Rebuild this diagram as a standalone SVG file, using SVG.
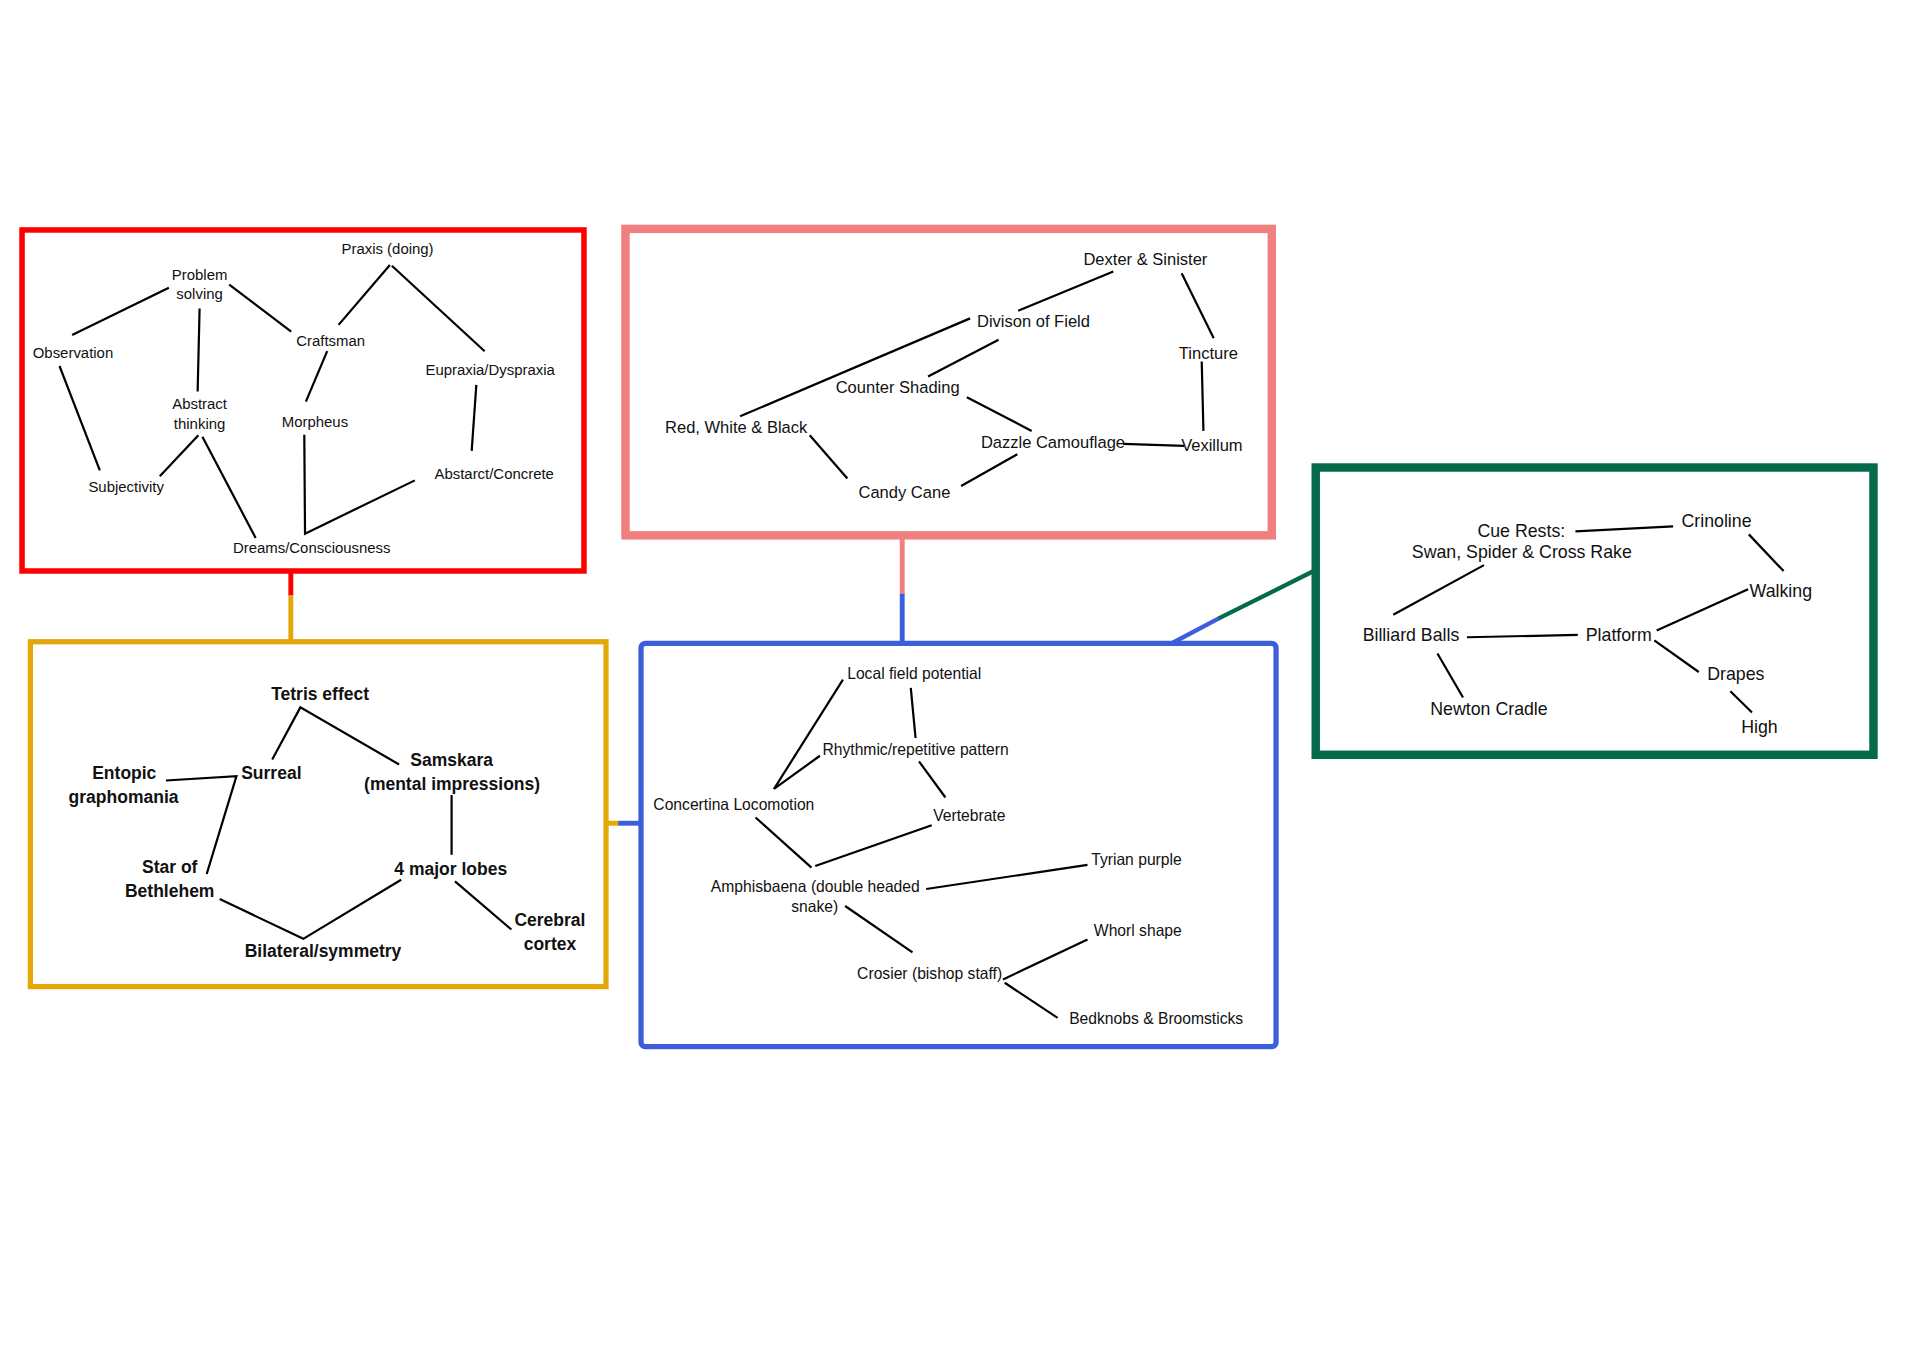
<svg xmlns="http://www.w3.org/2000/svg" width="1920" height="1357" viewBox="0 0 1920 1357">
<defs>
<style>
.box{fill:none}
.red{stroke:#FF0000}
.pink{stroke:#F07F7F}
.yel{stroke:#E2A808}
.blu{stroke:#3D5EDB}
.grn{stroke:#036A4B}
.lnk{stroke:#000;stroke-width:1.8;fill:none;stroke-linecap:butt}
.bridge{fill:none;stroke-width:4}
text{font-family:"Liberation Sans",Arial,sans-serif;fill:#111;text-anchor:middle;dominant-baseline:central}
.t1{font-size:12.2px}
.t2{font-size:13.5px}
.t3{font-size:14.5px}
.t4{font-size:14.3px;font-weight:bold}
.t5{font-size:12.8px}
</style>
</defs>
<rect width="1920" height="1357" fill="#fff"/>
<g transform="scale(1.2245)">
<g id="connectors">
<line class="bridge red" x1="237.5" y1="466" x2="237.5" y2="486.5"/>
<line class="bridge yel" x1="237.5" y1="486" x2="237.5" y2="524"/>
<line class="bridge yel" x1="494.5" y1="672.3" x2="505.5" y2="672.3"/>
<line class="bridge blu" x1="505" y1="672.3" x2="523.5" y2="672.3"/>
<line class="bridge pink" x1="736.8" y1="437" x2="736.8" y2="485.5"/>
<line class="bridge blu" x1="736.8" y1="485" x2="736.8" y2="525.4"/>
<line class="bridge blu" style="stroke-width:3.5" x1="957.7" y1="524.9" x2="995.8" y2="504.8"/>
<line class="bridge grn" style="stroke-width:3.5" x1="995.3" y1="505" x2="1074.5" y2="465.5"/>
</g>

<g id="box-red">
<rect class="box red" x="18" y="187.8" width="458.9" height="278.5" stroke-width="4.5"/>
<g class="links">
<line class="lnk" x1="137.9" y1="235" x2="58.9" y2="273.6"/>
<line class="lnk" x1="163" y1="252" x2="161.4" y2="319.8"/>
<line class="lnk" x1="187.2" y1="232.4" x2="237.8" y2="270.8"/>
<line class="lnk" x1="318.4" y1="216.4" x2="276.5" y2="265.3"/>
<line class="lnk" x1="320" y1="217" x2="395.8" y2="286.8"/>
<line class="lnk" x1="267.2" y1="286.8" x2="249.8" y2="328"/>
<line class="lnk" x1="48.6" y1="298.9" x2="81.5" y2="384.1"/>
<line class="lnk" x1="162" y1="355.5" x2="130.5" y2="389"/>
<line class="lnk" x1="165.3" y1="356.6" x2="208.8" y2="439.4"/>
<polyline class="lnk" points="248.5,355 249.1,435.8 338.8,392.3"/>
<line class="lnk" x1="389" y1="314.3" x2="385.2" y2="368.2"/>
</g>
<text class="t1" x="316.5" y="203">Praxis (doing)</text>
<text class="t1" x="163" y="224">Problem</text>
<text class="t1" x="163" y="240">solving</text>
<text class="t1" x="59.6" y="287.5">Observation</text>
<text class="t1" x="270" y="278">Craftsman</text>
<text class="t1" x="400.3" y="302">Eupraxia/Dyspraxia</text>
<text class="t1" x="163" y="329.6">Abstract</text>
<text class="t1" x="163" y="345.5">thinking</text>
<text class="t1" x="257.2" y="344">Morpheus</text>
<text class="t1" x="103" y="397.5">Subjectivity</text>
<text class="t1" x="403.6" y="386.5">Abstarct/Concrete</text>
<text class="t1" x="254.6" y="447.5">Dreams/Consciousness</text>
</g>

<g id="box-pink">
<rect class="box pink" x="510.8" y="186.9" width="527.8" height="250.3" stroke-width="6.9"/>
<g class="links">
<line class="lnk" x1="909.2" y1="221.8" x2="831.5" y2="253.8"/>
<line class="lnk" x1="792.2" y1="260" x2="604.4" y2="340"/>
<line class="lnk" x1="815.5" y1="277.4" x2="757.9" y2="307.5"/>
<line class="lnk" x1="965" y1="223.1" x2="991.2" y2="276.3"/>
<line class="lnk" x1="981.4" y1="295.3" x2="982.8" y2="351.9"/>
<line class="lnk" x1="789.6" y1="324.5" x2="842.5" y2="351.9"/>
<line class="lnk" x1="917.2" y1="362.5" x2="967.1" y2="364.1"/>
<line class="lnk" x1="661.3" y1="355.5" x2="692" y2="390.7"/>
<line class="lnk" x1="830.8" y1="370.9" x2="784.9" y2="396.9"/>
</g>
<text class="t2" x="935.4" y="212.2">Dexter &amp; Sinister</text>
<text class="t2" x="844" y="262.6">Divison of Field</text>
<text class="t2" x="986.8" y="288.7">Tincture</text>
<text class="t2" x="733.1" y="316.6">Counter Shading</text>
<text class="t2" x="601.2" y="348.9">Red, White &amp; Black</text>
<text class="t2" x="859.9" y="361.1">Dazzle Camouflage</text>
<text class="t2" x="989.7" y="364">Vexillum</text>
<text class="t2" x="738.6" y="402">Candy Cane</text>
</g>

<g id="box-green">
<rect class="box grn" x="1074.5" y="381.8" width="455.5" height="234.6" stroke-width="6.9"/>
<g class="links">
<line class="lnk" x1="1286.6" y1="434" x2="1366.4" y2="429.9"/>
<line class="lnk" x1="1428.2" y1="436.4" x2="1456.6" y2="466.4"/>
<line class="lnk" x1="1211.9" y1="461.5" x2="1137.8" y2="502"/>
<line class="lnk" x1="1198" y1="520.4" x2="1288.5" y2="518.5"/>
<line class="lnk" x1="1352.9" y1="515" x2="1427.6" y2="481.2"/>
<line class="lnk" x1="1351" y1="522.9" x2="1387.3" y2="548.8"/>
<line class="lnk" x1="1173.9" y1="533.7" x2="1194.8" y2="569.6"/>
<line class="lnk" x1="1413.1" y1="564.5" x2="1430.8" y2="581.8"/>
</g>
<text class="t3" x="1242.4" y="433.4">Cue Rests:</text>
<text class="t3" x="1242.8" y="450.7">Swan, Spider &amp; Cross Rake</text>
<text class="t3" x="1401.8" y="425.8">Crinoline</text>
<text class="t3" x="1454.3" y="482.6">Walking</text>
<text class="t3" x="1152.3" y="518.2">Billiard Balls</text>
<text class="t3" x="1322" y="518.2">Platform</text>
<text class="t3" x="1417.6" y="550.7">Drapes</text>
<text class="t3" x="1216" y="579.3">Newton Cradle</text>
<text class="t3" x="1436.9" y="593.8">High</text>
</g>

<g id="box-yellow">
<rect class="box yel" x="24.8" y="524.1" width="470.1" height="281.6" stroke-width="4.3"/>
<g class="links">
<polyline class="lnk" points="222.3,620.3 245.3,577.7 325.9,624.3"/>
<polyline class="lnk" points="135.5,637.4 193.1,633.8 168.8,713.8"/>
<line class="lnk" x1="368.8" y1="649.3" x2="368.8" y2="698.1"/>
<polyline class="lnk" points="179.4,734.2 247.7,766.7 327.6,718.5"/>
<line class="lnk" x1="371.6" y1="719.8" x2="417.6" y2="759.1"/>
</g>
<text class="t4" x="261.4" y="566.8">Tetris effect</text>
<text class="t4" x="221.6" y="631.1">Surreal</text>
<text class="t4" x="368.8" y="620.3">Samskara</text>
<text class="t4" x="369.2" y="640.1">(mental impressions)</text>
<text class="t4" x="101.5" y="631.1">Entopic</text>
<text class="t4" x="100.9" y="650.9">graphomania</text>
<text class="t4" x="138.6" y="708.4">Star of</text>
<text class="t4" x="138.6" y="727.7">Bethlehem</text>
<text class="t4" x="368.1" y="709.8">4 major lobes</text>
<text class="t4" x="449.1" y="751.5">Cerebral</text>
<text class="t4" x="449.1" y="771.3">cortex</text>
<text class="t4" x="263.8" y="777">Bilateral/symmetry</text>
</g>

<g id="box-blue">
<rect class="box blu" x="523.5" y="525.4" width="518.6" height="329.4" rx="3.5" stroke-width="4.3"/>
<g class="links">
<line class="lnk" x1="688.4" y1="555" x2="632" y2="644.4"/>
<line class="lnk" x1="669.6" y1="617.2" x2="632.7" y2="643.9"/>
<line class="lnk" x1="743.8" y1="561.8" x2="747.7" y2="602.7"/>
<line class="lnk" x1="750.5" y1="621.8" x2="772.1" y2="651.3"/>
<line class="lnk" x1="617" y1="667.6" x2="662.7" y2="708.5"/>
<line class="lnk" x1="760.9" y1="673.9" x2="665.8" y2="707.2"/>
<line class="lnk" x1="756.4" y1="726" x2="888.1" y2="706.3"/>
<line class="lnk" x1="690.2" y1="739.9" x2="745.2" y2="777.8"/>
<line class="lnk" x1="819.1" y1="799.9" x2="888.1" y2="767.2"/>
<line class="lnk" x1="820.5" y1="802.6" x2="863.7" y2="831.2"/>
</g>
<text class="t5" x="746.6" y="550.3">Local field potential</text>
<text class="t5" x="747.7" y="611.7">Rhythmic/repetitive pattern</text>
<text class="t5" x="599.3" y="657.2">Concertina Locomotion</text>
<text class="t5" x="791.6" y="666.2">Vertebrate</text>
<text class="t5" x="928.1" y="702">Tyrian purple</text>
<text class="t5" x="665.8" y="724.3">Amphisbaena (double headed</text>
<text class="t5" x="665.4" y="740.1">snake)</text>
<text class="t5" x="929.2" y="759.8">Whorl shape</text>
<text class="t5" x="759.2" y="795">Crosier (bishop staff)</text>
<text class="t5" x="944.2" y="832">Bedknobs &amp; Broomsticks</text>
</g>
</g>
</svg>
